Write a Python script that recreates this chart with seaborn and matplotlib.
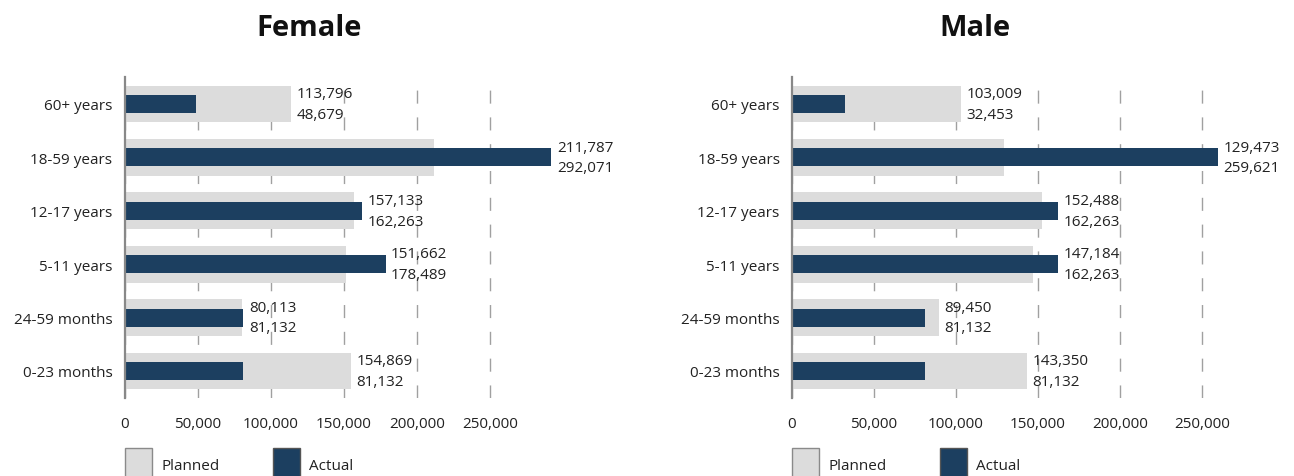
import matplotlib
matplotlib.use("Agg")
import matplotlib.pyplot as plt
from matplotlib.patches import Patch
import pandas as pd
import seaborn as sns

# Target groups (top to bottom)
age_groups = ["60+ years", "18-59 years", "12-17 years", "5-11 years",
              "24-59 months", "0-23 months"]

female_planned = [113796, 211787, 157133, 151662, 80113, 154869]
female_actual = [48679, 292071, 162263, 178489, 81132, 81132]

male_planned = [103009, 129473, 152488, 147184, 89450, 143350]
male_actual = [32453, 259621, 162263, 162263, 81132, 81132]

x_ticks = [0, 50000, 100000, 150000, 200000, 250000]

PLANNED_COLOR = "#dcdcdc"
ACTUAL_COLOR = "#1c3f60"
TEXT_COLOR = "#222222"
FS = 11

sns.set_style("white")
plt.rcParams["font.family"] = ["Open Sans", "DejaVu Sans"]
plt.rcParams["font.size"] = FS

W, H = 1294, 477
fig = plt.figure(figsize=(W / 100, H / 100), dpi=100)

bottom = 1 - 398.7 / H
height = 320.4 / H
panels = [
    ("Female", female_planned, female_actual, 125, 300000, 0.00146, 309.5),
    ("Male", male_planned, male_actual, 792, 270000, 0.00164, 975),
]

for title, planned, actual, left_px, xmax, px_per_unit, title_x in panels:
    ax = fig.add_axes([left_px / W, bottom, xmax * px_per_unit / W, height])
    df = pd.DataFrame({"group": age_groups, "Planned": planned, "Actual": actual})

    sns.barplot(data=df, x="Planned", y="group", orient="h", color=PLANNED_COLOR,
                width=0.69, saturation=1, linewidth=0, ax=ax, zorder=2)
    sns.barplot(data=df, x="Actual", y="group", orient="h", color=ACTUAL_COLOR,
                width=0.34, saturation=1, linewidth=0, ax=ax, zorder=3)

    # value labels: planned on top, actual beneath
    for i, (p, a) in enumerate(zip(planned, actual)):
        xpos = max(p, a)
        ax.annotate(f"{p:,}", (xpos, i), xytext=(4, 7.4), textcoords="offset points",
                    ha="left", va="center", fontsize=FS, color=TEXT_COLOR,
                    annotation_clip=False, zorder=4)
        ax.annotate(f"{a:,}", (xpos, i), xytext=(4, -7.4), textcoords="offset points",
                    ha="left", va="center", fontsize=FS, color=TEXT_COLOR,
                    annotation_clip=False, zorder=4)

    ax.set_xlim(0, xmax)
    ax.set_ylim(len(age_groups) - 0.5, -0.5)
    ax.set_xticks(x_ticks)
    ax.set_xticklabels([f"{t:,}" for t in x_ticks])
    ax.set_xlabel("")
    ax.set_ylabel("")
    ax.tick_params(axis="x", length=0, pad=13, labelsize=FS, labelcolor=TEXT_COLOR)
    ax.tick_params(axis="y", length=0, pad=9, labelsize=FS, labelcolor=TEXT_COLOR)

    ax.set_axisbelow(True)
    ax.grid(axis="x", color="#a0a0a0", linewidth=1.0, linestyle=(0, (9.4, 9.9)))
    ax.grid(axis="y", visible=False)
    for side in ("top", "right", "bottom"):
        ax.spines[side].set_visible(False)
    ax.spines["left"].set_color("#888888")
    ax.spines["left"].set_linewidth(1.6)
    ax.spines["left"].set_zorder(5)

    handles = [Patch(facecolor=PLANNED_COLOR, edgecolor="#8a8a8a", linewidth=1, label="Planned"),
               Patch(facecolor=ACTUAL_COLOR, edgecolor="#555555", linewidth=1, label="Actual")]
    ax.legend(handles=handles, loc="upper left", bbox_to_anchor=(0, -0.158), ncol=2,
              frameon=False, borderpad=0, borderaxespad=0, handlelength=1.77,
              handleheight=2.8, handletextpad=0.6, columnspacing=3.5,
              fontsize=FS, labelcolor=TEXT_COLOR)

    fig.text(title_x / W, 1 - 36 / H, title, ha="center", va="baseline",
             fontsize=21, fontweight="bold", color="#111111")

fig.savefig("out.png", dpi=100)
